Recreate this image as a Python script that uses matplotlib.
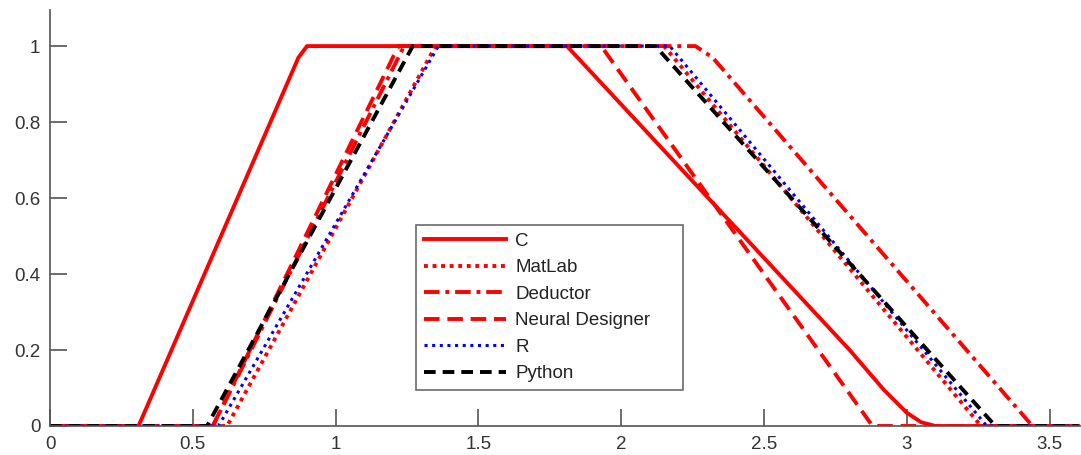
import matplotlib
matplotlib.use("Agg")
import matplotlib.pyplot as plt

plt.rcParams['font.family'] = ['Liberation Sans', 'DejaVu Sans']

# trapezoid corner points (x, y) for each membership function
c_x = [0, 0.31, 0.87, 0.9, 1.81, 2.80, 2.92, 3.0, 3.05, 3.1, 3.6]
c_y = [0, 0, 0.97, 1, 1, 0.2, 0.095, 0.035, 0.01, 0, 0]

matlab_x = [0, 0.62, 1.35, 2.15, 3.26, 3.6]
matlab_y = [0, 0, 1, 1, 0, 0]

deductor_x = [0, 0.57, 1.24, 2.26, 2.32, 3.44, 3.6]
deductor_y = [0, 0, 1, 1, 0.97, 0, 0]

neural_x = [0, 0.57, 1.22, 1.93, 2.88, 3.6]
neural_y = [0, 0, 1, 1, 0, 0]

r_x = [0, 0.59, 1.36, 2.17, 3.28, 3.6]
r_y = [0, 0, 1, 1, 0, 0]

python_x = [0, 0.55, 1.27, 2.12, 3.31, 3.6]
python_y = [0, 0, 1, 1, 0, 0]

fig = plt.figure(figsize=(10.81, 4.55), dpi=100)
ax = fig.add_axes([50 / 1081, 29 / 455, 1 - 50 / 1081, 416 / 455])

lw = 2.8
ax.plot(c_x, c_y, color='red', lw=lw, ls='-', label='C')
ax.plot(matlab_x, matlab_y, color='red', lw=lw, ls=(0, (1, 1.2)), label='MatLab')
ax.plot(deductor_x, deductor_y, color='red', lw=lw, ls=(0, (4, 1.5, 1, 1.5)), label='Deductor')
ax.plot(neural_x, neural_y, color='red', lw=lw, ls=(0, (4, 2)), label='Neural Designer')
ax.plot(r_x, r_y, color='blue', lw=2.2, ls=(0, (1, 1.5)), label='R')
ax.plot(python_x, python_y, color='black', lw=lw, ls=(0, (3, 1.8)), label='Python')

ax.set_xlim(0, 3.61)
ax.set_ylim(0, 1.095)
ax.set_xticks([0, 0.5, 1, 1.5, 2, 2.5, 3, 3.5])
ax.set_xticklabels(['0', '0.5', '1', '1.5', '2', '2.5', '3', '3.5'])
ax.set_yticks([0, 0.2, 0.4, 0.6, 0.8, 1])
ax.set_yticklabels(['0', '0.2', '0.4', '0.6', '0.8', '1'])

for s in ['top', 'right']:
    ax.spines[s].set_visible(False)
for s in ['left', 'bottom']:
    ax.spines[s].set_color('#555555')
    ax.spines[s].set_linewidth(1.2)
ax.tick_params(direction='in', length=12, width=1.2, color='#555555',
               labelcolor='#333333', labelsize=13.5, pad=7)

leg = ax.legend(loc='upper left', bbox_to_anchor=(366 / 1031, (426 - 225) / 416, 267 / 1031, 0),
                mode='expand', fontsize=13.5, frameon=True, fancybox=False,
                handlelength=4.4, handletextpad=0.5, borderpad=0.4, labelspacing=0.5,
                borderaxespad=0)
leg.get_frame().set_edgecolor('#444444')
leg.get_frame().set_linewidth(1.2)
for t in leg.get_texts():
    t.set_color('#222222')

fig.savefig('out.png', dpi=100)
